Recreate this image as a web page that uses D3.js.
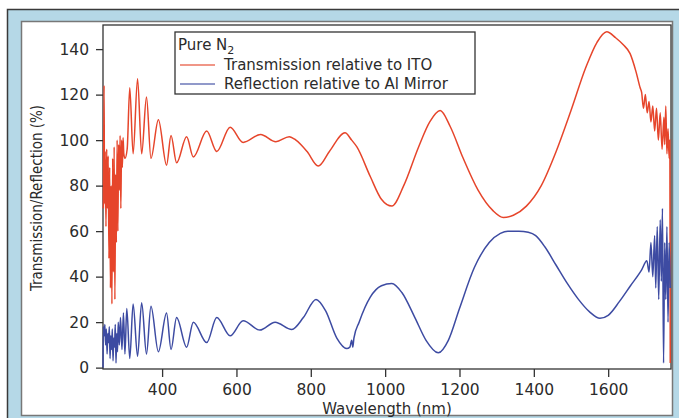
<!DOCTYPE html>
<html>
<head>
<meta charset="utf-8">
<script src="https://cdn.jsdelivr.net/npm/d3@7"></script>
<style>
  html, body { margin: 0; padding: 0; background: #fff; }
  svg { display: block; }
  text { font-family: "DejaVu Sans", sans-serif; fill: #2b2b2b; }
</style>
</head>
<body>
<svg id="chart" width="679" height="418"></svg>
<script>
// values: [wavelength nm, percent]
var transmission = [
  [242,70],[244,124],[245,72],[247,95],[249,62],[251,96],[253,70],[255,93],[257,48],[259,88],
  [261,35],[263,80],[265,28],[267,92],[269,42],[271,97],[273,30],[275,85],[277,55],[279,100],
  [281,60],[283,98],[285,78],[287,102],[289,70],[291,100],[293,88],[295,101],[297,94],[300,92],
  [306,96],[313,123],[322,94],[334,127],[345,94],[358,119],[370,92],[390,109],[412,89],[424,102],
  [439,90],[466,101.5],[484,92.6],[520,104],[547,95],[583,105.7],[618,99],[665,102.5],[706,99.3],
  [742,101.5],[760,100],[790,95],[820,88.6],[850,95],[892,103.2],[910,100],[924,97],[960,84],
  [990,74],[1018,71],[1050,80],[1090,97],[1120,108],[1148,113],[1175,106],[1210,92],[1250,78],
  [1290,69],[1318,66],[1345,67],[1380,71],[1420,80],[1460,95],[1500,113],[1540,132],[1570,143],
  [1596,147.6],[1620,145],[1640,142],[1659,138],[1675,130],[1686,123],[1690,121],[1695,114],[1700,120],
  [1705,112],[1710,117],[1715,108],[1720,115],[1725,104],[1730,114],[1735,100],[1740,112],
  [1745,96],[1750,110],[1752,98],[1755,115],[1758,94],[1761,105],[1764,92],[1766,100],[1767,2]
];

var reflection = [
  [241,0],[242,18],[244,14],[246,19],[248,10],[250,17],[252,6],[254,15],[256,11],[258,18],
  [260,4],[262,14],[264,8],[266,17],[268,3],[270,13],[272,9],[274,19],[276,2],[278,15],
  [280,7],[282,20],[285,10],[288,22],[292,8],[296,24],[300,6],[305,26],[313,4],[322,28],
  [334,5],[345,28.5],[358,6],[370,27],[390,7],[412,24],[424,8],[439,22],[466,9],[484,20],
  [520,11],[547,22],[583,14],[618,20.6],[663,16.5],[704,20],[749,16.8],[780,22],[814,30],
  [840,25],[870,13],[897,8.4],[905,9],[910,12],[913,9],[916,13],[930,20],[960,31],[990,36],
  [1018,37],[1045,33],[1080,22],[1110,12],[1143,6.5],[1170,12],[1200,26],[1240,44],[1280,55],
  [1310,59],[1330,60],[1360,60],[1385,59.5],[1405,58],[1430,53],[1460,45],[1490,37],[1520,30],
  [1550,24.5],[1578,21.7],[1600,23],[1630,29],[1660,36],[1690,43],[1704,47],[1710,42],[1715,55],
  [1720,40],[1725,58],[1728,35],[1732,62],[1736,30],[1740,65],[1743,38],[1746,70],[1749,2],
  [1752,55],[1755,30],[1758,62],[1761,20],[1764,55],[1767,35]
];

var xTicks = [400, 600, 800, 1000, 1200, 1400, 1600];
var yTicks = [0, 20, 40, 60, 80, 100, 120, 140];
var legendTitle = "Pure N";
var seriesNames = ["Transmission relative to ITO", "Reflection relative to Al Mirror"];
var seriesColors = ["#e6452b", "#3d4ba2"];

var svg = d3.select("#chart");

// outer light blue frame and the white panel
svg.append("rect").attr("x", 7.5).attr("y", 9.5).attr("width", 680).attr("height", 420)
  .attr("fill", "#b5d8e7").attr("stroke", "#3a3a3a").attr("stroke-width", 1.5);
svg.append("rect").attr("x", 21.5).attr("y", 21.5).attr("width", 651).attr("height", 394)
  .attr("fill", "#fff").attr("stroke", "#777").attr("stroke-width", 1.5);

var pL = 103, pR = 671, pT = 25, pB = 369;

var x = d3.scaleLinear().domain([241, 1769]).range([pL, pR]);
var y = d3.scaleLinear().domain([-0.6, 150.6]).range([pB, pT]);

// plot frame
svg.append("rect").attr("x", pL).attr("y", pT).attr("width", pR - pL).attr("height", pB - pT)
  .attr("fill", "none").attr("stroke", "#333").attr("stroke-width", 1.3);

var line = d3.line()
  .x(function(d) { return x(d[0]); })
  .y(function(d) { return y(d[1]); })
  .curve(d3.curveMonotoneX);

svg.append("path").datum(transmission).attr("d", line)
  .attr("fill", "none").attr("stroke", seriesColors[0]).attr("stroke-width", 1.5);
svg.append("path").datum(reflection).attr("d", line)
  .attr("fill", "none").attr("stroke", seriesColors[1]).attr("stroke-width", 1.5);

// axes
var yAxis = svg.append("g").attr("transform", "translate(" + pL + ",0)")
  .call(d3.axisLeft(y).tickValues(yTicks).tickFormat(d3.format("d")).tickSize(7).tickPadding(7));
var xAxis = svg.append("g").attr("transform", "translate(0," + pB + ")")
  .call(d3.axisBottom(x).tickValues(xTicks).tickFormat(d3.format("d")).tickSize(8).tickPadding(7));

[yAxis, xAxis].forEach(function(g) {
  g.select(".domain").remove();
  g.selectAll("line").attr("stroke", "#333").attr("stroke-width", 1.3);
  g.selectAll("text").attr("font-family", "DejaVu Sans").attr("font-size", 15.5).attr("fill", "#2b2b2b");
});

// axis titles
svg.append("text").attr("transform", "translate(42,198) rotate(-90)")
  .attr("text-anchor", "middle").attr("font-size", 15)
  .style("font-family", "'DejaVu Sans Condensed', 'DejaVu Sans'")
  .text("Transmission/Reflection (%)");
svg.append("text").attr("x", (pL + pR) / 2).attr("y", 414)
  .attr("text-anchor", "middle").attr("font-size", 15)
  .text("Wavelength (nm)");

// legend
var lg = svg.append("g");
lg.append("rect").attr("x", 175).attr("y", 32).attr("width", 300).attr("height", 62)
  .attr("fill", "#fff").attr("stroke", "#333").attr("stroke-width", 1.3);
var t = lg.append("text").attr("x", 178).attr("y", 50).attr("font-size", 15);
t.append("tspan").text(legendTitle);
t.append("tspan").attr("font-size", 11).attr("dy", 4).text("2");

seriesNames.forEach(function(name, i) {
  var cy = 65 + i * 19;
  lg.append("line").attr("x1", 180).attr("x2", 215).attr("y1", cy).attr("y2", cy)
    .attr("stroke", seriesColors[i]).attr("stroke-width", 1.4).attr("opacity", 0.75);
  lg.append("text").attr("x", 224).attr("y", cy + 5).attr("font-size", 15).text(name);
});
</script>
</body>
</html>
